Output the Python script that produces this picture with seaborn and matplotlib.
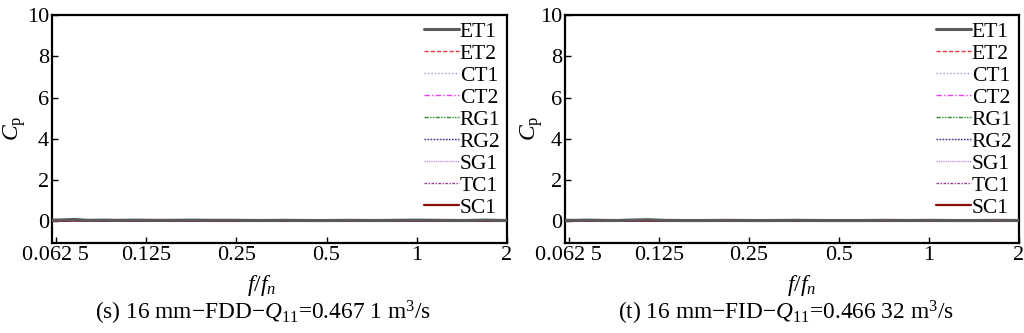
import matplotlib
matplotlib.use("Agg")
import matplotlib.pyplot as plt
import seaborn as sns
import pandas as pd
import numpy as np

sns.set_style("ticks")
plt.rcParams['font.family'] = ['Liberation Serif', 'DejaVu Serif']
plt.rcParams['mathtext.fontset'] = 'custom'
plt.rcParams['mathtext.rm'] = 'Liberation Serif'
plt.rcParams['mathtext.it'] = 'Liberation Serif:italic'
for k in ['text.color', 'axes.labelcolor', 'xtick.color', 'ytick.color', 'axes.edgecolor']:
    plt.rcParams[k] = 'black'

# ---- data ----
series_names = ["ET1", "ET2", "CT1", "CT2", "RG1", "RG2", "SG1", "TC1", "SC1"]
series_colors = ["#5a5a5a", "#e8383d", "#9a9ae6", "#ee44ee", "#2e8b2e",
                 "#2a2a8a", "#c99be8", "#9a3a9a", "#8b1010"]
series_dashes = [(None, None), (3, 1.5), (1, 1.5), (4, 1.5, 1, 1.5), (3, 1, 1, 1, 1, 1),
                 (1.2, 1), (1, 0.6), (2, 1, 1, 1), (None, None)]

freq = [0.0607, 0.066, 0.072, 0.08, 0.09, 0.1, 0.115, 0.13, 0.15, 0.18, 0.21,
        0.25, 0.3, 0.36, 0.43, 0.5, 0.6, 0.72, 0.85, 1.0, 1.2, 1.45, 1.7, 2.0]

# panel (s)
cp_s_et1 = [0.06, 0.07, 0.09, 0.05, 0.06, 0.05, 0.06, 0.05, 0.05, 0.06, 0.05,
            0.05, 0.04, 0.05, 0.04, 0.04, 0.05, 0.04, 0.05, 0.06, 0.05, 0.04, 0.06, 0.04]
cp_s_other = [0.03, 0.03, 0.04, 0.03, 0.03, 0.03, 0.03, 0.03, 0.02, 0.03, 0.02,
              0.02, 0.02, 0.02, 0.02, 0.02, 0.02, 0.02, 0.02, 0.03, 0.02, 0.02, 0.02, 0.02]
# panel (t)
cp_t_et1 = [0.05, 0.05, 0.06, 0.05, 0.04, 0.06, 0.08, 0.05, 0.04, 0.04, 0.05,
            0.04, 0.04, 0.05, 0.04, 0.04, 0.04, 0.05, 0.04, 0.05, 0.04, 0.04, 0.05, 0.04]
cp_t_other = [0.02, 0.02, 0.03, 0.02, 0.02, 0.03, 0.03, 0.02, 0.02, 0.02, 0.02,
              0.02, 0.02, 0.02, 0.02, 0.02, 0.02, 0.02, 0.02, 0.02, 0.02, 0.02, 0.02, 0.02]

xticks = [0.0625, 0.125, 0.25, 0.5, 1, 2]
xtick_labels = ["0.062 5", "0.125", "0.25", "0.5", "1", "2"]
yticks = [0, 2, 4, 6, 8, 10]

captions = [r"(s) 16 mm$-$FDD$-$$Q_{11}$=0.467 1 m$^3$/s",
            r"(t) 16 mm$-$FID$-$$Q_{11}$=0.466 32 m$^3$/s"]

fig = plt.figure(figsize=(10.24, 3.33), dpi=100)
axes = [fig.add_axes([52/1024, 1-243/333, 455/1024, 228/333]),
        fig.add_axes([565/1024, 1-243/333, 454/1024, 228/333])]

panels = [(cp_s_et1, cp_s_other), (cp_t_et1, cp_t_other)]
caption_x = [263/1024, 786/1024]
xlabel_x = [262/1024, 802/1024]
ylabel_x = [15/1024, 532/1024]

for ax, (et1, other), cap, cx, lx, yx in zip(axes, panels, captions, caption_x, xlabel_x, ylabel_x):
    for i, name in enumerate(series_names):
        vals = et1 if name == "ET1" else other
        df = pd.DataFrame({"f": freq, "cp": vals})
        lw = 2.2 if name in ("ET1",) else (1.6 if name == "SC1" else 1.0)
        sns.lineplot(data=df, x="f", y="cp", ax=ax, color=series_colors[i], lw=lw,
                     label=name, zorder=10 if name == "ET1" else 3)
        line = ax.lines[-1]
        if series_dashes[i][0] is not None:
            line.set_dashes(series_dashes[i])
    ax.set_xscale("log", base=2)
    ax.set_xlim(0.0607, 2)
    ax.set_ylim(-1.05, 10)
    ax.set_xticks(xticks)
    ax.set_xticklabels(xtick_labels)
    ax.minorticks_off()
    ax.set_yticks(yticks)
    ax.set_yticklabels([str(v) for v in yticks])
    ax.tick_params(direction="in", length=4, width=1, labelsize=16, pad=2, colors="black")
    for sp in ax.spines.values():
        sp.set_linewidth(1.6)
        sp.set_color("black")
    ax.set_xlabel("")
    ax.set_ylabel("")
    h, l = ax.get_legend_handles_labels()
    leg = ax.legend(h, l, loc="upper right", frameon=False, fontsize=15.5,
                    handlelength=1.6, handletextpad=0.05, labelspacing=0.09,
                    borderaxespad=0.1, borderpad=0.2)
    for lh, c in zip(leg.get_lines(), series_colors):
        lh.set_color(c)
    for t in leg.get_texts():
        t.set_color("black")
    fig.text(yx, 1-128/333, r"$C_{\mathrm{p}}$", rotation=90, ha="center", va="center", fontsize=17, color="black")
    fig.text(lx, 1-285/333, r"$f/f_n$", ha="center", va="center", fontsize=17, color="black")
    fig.text(cx, 1-313/333, cap, ha="center", va="center", fontsize=16.8, color="black")

fig.savefig("out.png", dpi=100)
